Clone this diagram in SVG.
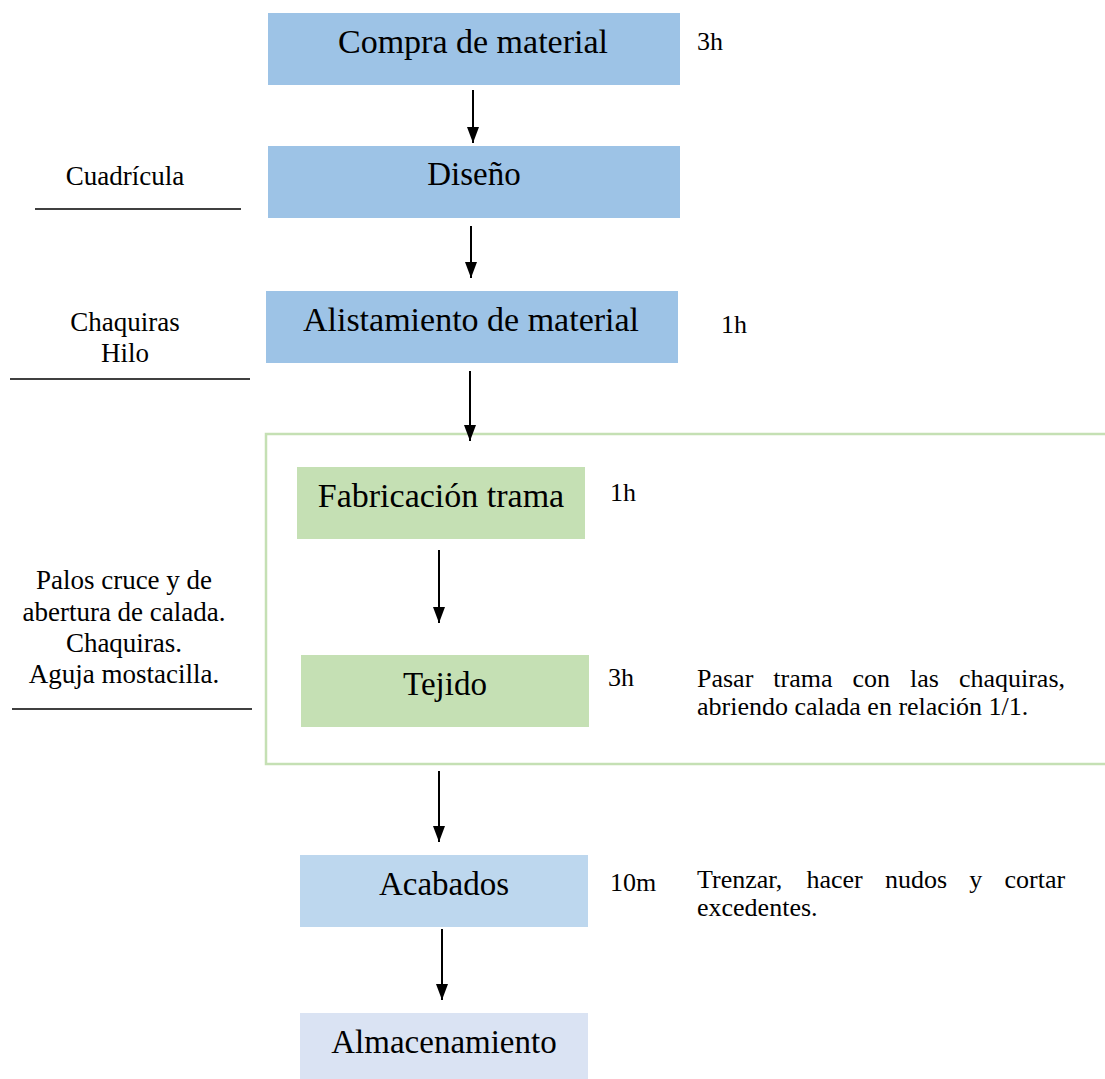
<svg xmlns="http://www.w3.org/2000/svg" width="1105" height="1079" viewBox="0 0 1105 1079">
<style>
.t{font-family:"Liberation Serif","DejaVu Serif",serif;fill:#000}
.big{font-size:33px;text-anchor:middle}
.sm{font-size:26px}
.note{font-size:26px}
.lab{font-size:27px;text-anchor:middle}
.blue{fill:#9DC3E6}
.green{fill:#C5E0B4}
.lblue{fill:#BDD7EE}
.pale{fill:#DAE3F3}
.rule{stroke:#000;stroke-width:1.3}
.conn{stroke:#000;stroke-width:2;fill:none;marker-end:url(#ah)}
</style>
<defs>
<marker id="ah" markerUnits="userSpaceOnUse" markerWidth="16" markerHeight="12" refX="16" refY="6" orient="auto" viewBox="0 0 16 12">
<path d="M0,0 L16,6 L0,12 Z" fill="#000"/>
</marker>
</defs>
<rect width="1105" height="1079" fill="#fff"/>
<g id="subprocess">
<rect x="266" y="434" width="860" height="330" fill="none" stroke="#C5E0B4" stroke-width="2.5"/>
</g>
<g id="n-compra">
<rect class="blue" x="268" y="13" width="412" height="72"/>
<text class="t big" x="473" y="53" style="font-size:34px">Compra de material</text>
<text class="t sm" x="697" y="50">3h</text>
</g>
<g id="n-diseno">
<rect class="blue" x="268" y="146" width="412" height="72"/>
<text class="t big" x="474" y="185">Diseño</text>
</g>
<g id="in-diseno">
<text class="t lab" x="125" y="185">Cuadrícula</text>
<line class="rule" x1="35" y1="209" x2="241" y2="209"/>
</g>
<g id="n-alistamiento">
<rect class="blue" x="266" y="291" width="412" height="72"/>
<text class="t big" x="471" y="331" style="font-size:34px">Alistamiento de material</text>
<text class="t sm" x="721" y="333">1h</text>
</g>
<g id="in-alistamiento">
<text class="t lab" x="125" y="331">Chaquiras</text>
<text class="t lab" x="125" y="362">Hilo</text>
<line class="rule" x1="10" y1="379" x2="250" y2="379"/>
</g>
<g id="n-fabricacion">
<rect class="green" x="297" y="467" width="288" height="72"/>
<text class="t big" x="441" y="507" style="font-size:34px">Fabricación trama</text>
<text class="t sm" x="610" y="501">1h</text>
</g>
<g id="in-tejido">
<text class="t lab" x="124" y="589">Palos cruce y de</text>
<text class="t lab" x="124" y="621">abertura de calada.</text>
<text class="t lab" x="124" y="652">Chaquiras.</text>
<text class="t lab" x="124" y="683">Aguja mostacilla.</text>
<line class="rule" x1="12" y1="709" x2="252" y2="709"/>
</g>
<g id="n-tejido">
<rect class="green" x="301" y="655" width="288" height="72"/>
<text class="t big" x="445" y="695">Tejido</text>
<text class="t sm" x="608" y="686">3h</text>
<text class="t note" y="687"><tspan x="697">Pasar</tspan><tspan x="773.3">trama</tspan><tspan x="852.5">con</tspan><tspan x="910">las</tspan><tspan x="958.9">chaquiras,</tspan></text>
<text class="t note" x="697" y="715">abriendo calada en relación 1/1.</text>
</g>
<g id="n-acabados">
<rect class="lblue" x="300" y="855" width="288" height="72"/>
<text class="t big" x="444" y="895">Acabados</text>
<text class="t sm" x="610" y="891">10m</text>
<text class="t note" y="888"><tspan x="697">Trenzar,</tspan><tspan x="806.5">hacer</tspan><tspan x="885">nudos</tspan><tspan x="969.3">y</tspan><tspan x="1004.5">cortar</tspan></text>
<text class="t note" x="697" y="916">excedentes.</text>
</g>
<g id="n-almacenamiento">
<rect class="pale" x="300" y="1013" width="288" height="66"/>
<text class="t big" x="444" y="1053">Almacenamiento</text>
</g>
<g id="connectors">
<line class="conn" x1="473" y1="90" x2="473" y2="143"/>
<line class="conn" x1="471" y1="226" x2="471" y2="278"/>
<line class="conn" x1="470" y1="371" x2="470" y2="441"/>
<line class="conn" x1="439" y1="550" x2="439" y2="623"/>
<line class="conn" x1="439" y1="771" x2="439" y2="842"/>
<line class="conn" x1="442" y1="929" x2="442" y2="1000"/>
</g>
</svg>
